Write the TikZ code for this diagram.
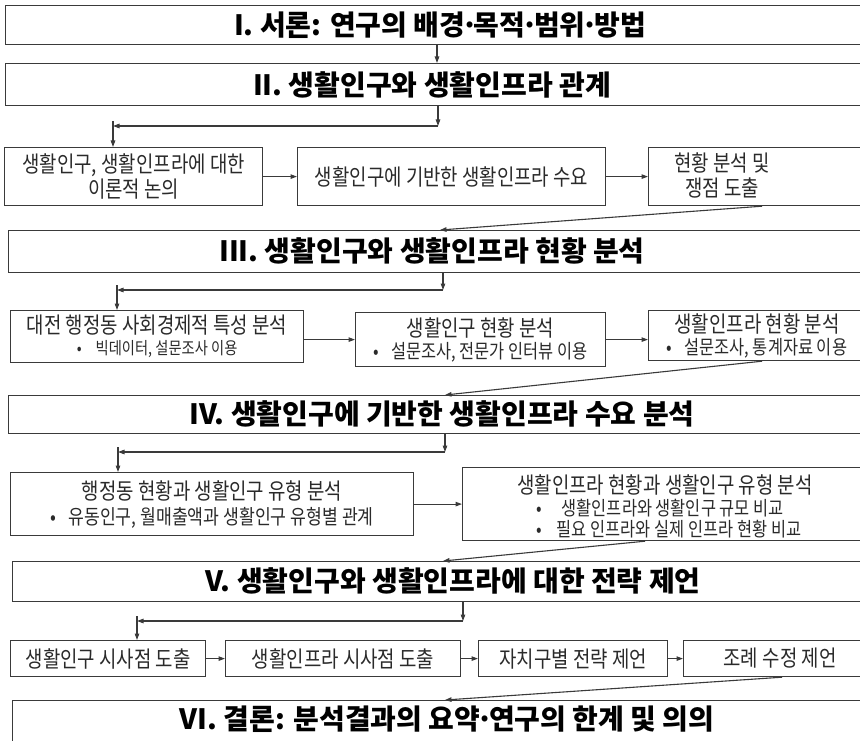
\documentclass[tikz,border=0pt]{standalone}
\usepackage{fontspec}
\usetikzlibrary{arrows.meta}
\newfontfamily\krbody{Noto Sans CJK KR}[FakeStretch=0.84]
\newfontfamily\krhead{Noto Sans CJK KR}
\definecolor{linec}{HTML}{3A3A3A}
\definecolor{txtc}{HTML}{2A2A2A}
\newcommand\md{\kern-0.15em·\kern-0.15em}
\newcommand\szd{\fontsize{17}{20}\selectfont}
\newcommand\sze{\fontsize{19.5}{23}\selectfont}
\newcommand\szg{\fontsize{20.5}{24}\selectfont}
\begin{document}
\begin{tikzpicture}[x=1pt,y=-1pt,
  box/.style={draw=linec, line width=1.2pt, inner sep=0pt, anchor=north west},
  ttl/.style={font=\krhead\bfseries\fontsize{28}{32}\selectfont, text=black, inner sep=0pt},
  body/.style={font=\krbody\fontsize{22.5}{27}\selectfont, text=txtc, align=center},
  bodyt/.style={body, inner sep=0pt},
  arr/.style={draw=linec, line width=1.1pt, -{Triangle[length=6.5pt,width=4.5pt]}},
  ln/.style={draw=linec, line width=1.1pt}]
\useasboundingbox (0,0) rectangle (860,741);
% title boxes
\node[box, minimum width=870pt, minimum height=39pt] (s1) at (5,5) {};
\node[ttl] (s1t) at (440,25) {I. 서론: 연구의 배경\md 목적\md 범위\md 방법};
\node[box, minimum width=870pt, minimum height=42pt] (s2) at (5,63) {};
\node[ttl] (s2t) at (432,85) {II. 생활인구와 생활인프라 관계};
\node[box, minimum width=870pt, minimum height=42pt] (s3) at (8,230) {};
\node[ttl] (s3t) at (432,251) {III. 생활인구와 생활인프라 현황 분석};
\node[box, minimum width=870pt, minimum height=38pt] (s4) at (8,395) {};
\node[ttl] (s4t) at (442,414) {IV. 생활인구에 기반한 생활인프라 수요 분석};
\node[box, minimum width=870pt, minimum height=40pt] (s5) at (12,561) {};
\node[ttl] (s5t) at (453,581) {V. 생활인구와 생활인프라에 대한 전략 제언};
\node[box, minimum width=870pt, minimum height=50pt] (s6) at (12,700) {};
\node[ttl] (s6t) at (447,719) {VI. 결론: 분석결과의 요약\md 연구의 한계 및 의의};
% row 1
\node[box, body, minimum width=258pt, minimum height=58pt] (a) at (4,147) {생활인구, 생활인프라에 대한\\[-2pt]이론적 논의};
\node[box, body, minimum width=308pt, minimum height=58pt] (b) at (297,147) {생활인구에 기반한 생활인프라 수요};
\node[box, minimum width=230pt, minimum height=58pt] (c) at (648,147) {};
\node[bodyt] (ct) at (722,175) {현황 분석 및\\[-2pt]쟁점 도출};
% row 2
\node[box, body, minimum width=293pt, minimum height=52pt] (d) at (10,310) {대전 행정동 사회경제적 특성 분석\\[-6pt]{\szd •\hspace{14pt}빅데이터, 설문조사 이용}};
\node[box, body, minimum width=250pt, minimum height=54pt] (e) at (355,312) {생활인구 현황 분석\\[-5pt]{\sze •\hspace{12pt}설문조사, 전문가 인터뷰 이용}};
\node[box, minimum width=230pt, minimum height=50pt] (f) at (648,310) {};
\node[bodyt] (ft) at (757,336) {생활인프라 현황 분석\\[-5pt]{\sze •\hspace{12pt}설문조사, 통계자료 이용}};
% row 3
\node[box, body, minimum width=403pt, minimum height=63pt] (g) at (10,472) {행정동 현황과 생활인구 유형 분석\\[-2pt]{\szg •\hspace{12pt}유동인구, 월매출액과 생활인구 유형별 관계}};
\node[box, minimum width=420pt, minimum height=73pt] (h) at (462,467) {};
\node[bodyt] (h1) at (665,485) {생활인프라 현황과 생활인구 유형 분석};
\node[bodyt, font=\krbody\sze, anchor=west] (h2) at (536,508) {•\hspace{20pt}생활인프라와 생활인구 규모 비교};
\node[bodyt, font=\krbody\sze, anchor=west] (h3) at (536,529) {•\hspace{15pt}필요 인프라와 실제 인프라 현황 비교};
% row 4
\node[box, body, minimum width=195pt, minimum height=36pt] (j) at (10,640) {생활인구 시사점 도출};
\node[box, body, minimum width=235pt, minimum height=36pt] (k) at (225,640) {생활인프라 시사점 도출};
\node[box, body, minimum width=189pt, minimum height=36pt] (l) at (478,640) {자치구별 전략 제언};
\node[box, minimum width=190pt, minimum height=36pt] (m) at (683,640) {};
\node[bodyt] (mt) at (780,658) {조례 수정 제언};
% helper coordinates
\coordinate (x1) at (437,0);
\coordinate (j1) at (438,126);
\coordinate (k1) at (113,126);
\coordinate (k1t) at (113,121);
\coordinate (dg1) at (762,0);
\coordinate (de1) at (440,0);
\coordinate (j2) at (443,290);
\coordinate (k2) at (117,290);
\coordinate (k2t) at (117,285);
\coordinate (dg2) at (762,0);
\coordinate (de2) at (445,0);
\coordinate (j3) at (445,452);
\coordinate (k3) at (118,452);
\coordinate (k3t) at (118,447);
\coordinate (dg3) at (645,0);
\coordinate (de3) at (443,0);
\coordinate (j4) at (463,621);
\coordinate (k4) at (137,621);
\coordinate (k4t) at (137,616);
\coordinate (dg4) at (782,0);
\coordinate (de4) at (445,0);
% connectors
\draw[arr] (s1.south -| x1) -- (s2.north -| x1);
\draw[arr] (s2.south -| j1) -- (j1);
\draw[arr] (j1) -- (k1);
\draw[arr] (k1t) -- (a.north -| k1t);
\draw[arr] (a.east) -- (b.west);
\draw[arr] (b.east) -- (c.west);
\draw[arr] (c.south -| dg1) -- (s3.north -| de1);
\draw[arr] (s3.south -| j2) -- (j2);
\draw[arr] (j2) -- (k2);
\draw[arr] (k2t) -- (d.north -| k2t);
\draw[arr] (e.west -| d.east) -- (e.west);
\draw[arr] (e.east) -- (f.west |- e.east);
\draw[arr] (f.south -| dg2) -- (s4.north -| de2);
\draw[arr] (s4.south -| j3) -- (j3);
\draw[arr] (j3) -- (k3);
\draw[arr] (k3t) -- (g.north -| k3t);
\draw[arr] (g.east) -- (h.west |- g.east);
\draw[arr] (h.south -| dg3) -- (s5.north -| de3);
\draw[arr] (s5.south -| j4) -- (j4);
\draw[arr] (j4) -- (k4);
\draw[arr] (k4t) -- (j.north -| k4t);
\draw[arr] (j.east) -- (k.west);
\draw[arr] (k.east) -- (l.west);
\draw[arr] (l.east) -- (m.west);
\draw[arr] (m.south -| dg4) -- (s6.north -| de4);
\end{tikzpicture}
\end{document}
